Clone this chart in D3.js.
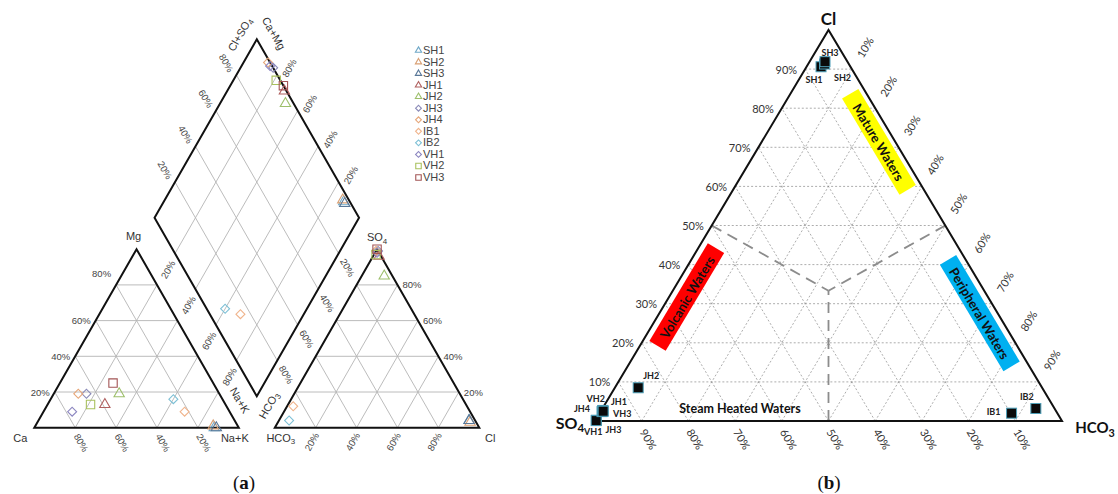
<!DOCTYPE html>
<html>
<head>
<meta charset="utf-8">
<script src="https://cdn.jsdelivr.net/npm/d3@7"></script>
<style>
  body { margin: 0; background: #fff; }
  svg { display: block; }
</style>
</head>
<body>
<svg id="chart" width="1118" height="494"></svg>
<script>
// ---------- sample data ----------
const sampleNames  = ["SH1", "SH2", "SH3", "JH1", "JH2", "JH3", "JH4", "IB1", "IB2", "VH1", "VH2", "VH3"];
const sampleShapes = ["triangle", "triangle", "triangle", "triangle", "triangle", "diamond", "diamond", "diamond", "diamond", "diamond", "square", "square"];
const sampleColors = ["#6fa8c8", "#d9a074", "#5a7898", "#b0605f", "#9dbf6b", "#8b8bb8", "#e6a77a", "#f0b48c", "#7ec0d6", "#8c86c0", "#a9c15e", "#a35555"];

// Piper diagram, meq fractions
const cationMg  = [0.00, 0.01, 0.00, 0.13, 0.19, 0.19, 0.19, 0.09, 0.16, 0.09, 0.13, 0.25];
const cationNaK = [0.88, 0.87, 0.89, 0.28, 0.32, 0.16, 0.12, 0.69, 0.60, 0.14, 0.21, 0.26];
const anionSO4  = [0.04, 0.03, 0.04, 0.96, 0.85, 0.99, 0.99, 0.12, 0.04, 0.98, 0.97, 1.00];
const anionCl   = [0.93, 0.94, 0.93, 0.03, 0.11, 0.01, 0.00, 0.03, 0.05, 0.01, 0.01, 0.00];

// Cl–SO4–HCO3 ternary, relative fractions
const gigCl   = [0.906, 0.913, 0.919, 0.026, 0.085, 0.002, 0.024, 0.020, 0.032, 0.001, 0.027, 0.025];
const gigHCO3 = [0.031, 0.035, 0.033, 0.004, 0.050, 0.002, 0.003, 0.882, 0.928, 0.002, 0.003, 0.005];

const piperTicks = [20, 40, 60, 80];
const gigTicks   = [10, 20, 30, 40, 50, 60, 70, 80, 90];

// ---------- shared helpers ----------
const svg = d3.select("#chart");

function line(g, p1, p2, stroke, width, dash) {
  g.append("line")
    .attr("x1", p1[0]).attr("y1", p1[1])
    .attr("x2", p2[0]).attr("y2", p2[1])
    .attr("stroke", stroke).attr("stroke-width", width)
    .attr("stroke-dasharray", dash || null);
}

function text(g, x, y, str, o = {}) {
  const t = g.append("text")
    .attr("transform", `translate(${x},${y}) rotate(${o.rotate || 0})`)
    .attr("text-anchor", o.anchor || "middle")
    .attr("dominant-baseline", o.baseline || "central")
    .attr("font-family", o.family || "'Liberation Sans', Arial, sans-serif")
    .attr("font-size", o.size || 10)
    .attr("font-weight", o.weight || "normal")
    .attr("fill", o.fill || "#333");
  if (o.sub) {
    t.append("tspan").text(str);
    t.append("tspan").attr("font-size", (o.size || 10) * 0.72).attr("dy", (o.size || 10) * 0.3).text(o.sub);
  } else {
    t.text(str);
  }
  return t;
}

const shapePath = {
  triangle: s => d3.symbol(d3.symbolTriangle, s)(),
  diamond:  s => d3.symbol(d3.symbolSquare, s)(),
  square:   s => d3.symbol(d3.symbolSquare, s)()
};
const shapeSize = {
  plot:   { triangle: 46, diamond: 40, square: 70 },
  legend: { triangle: 17, diamond: 17, square: 30 }
};
function marker(g, x, y, i, kind) {
  const shp = sampleShapes[i];
  g.append("path")
    .attr("d", shapePath[shp](shapeSize[kind][shp]))
    .attr("transform", `translate(${x},${y})` + (shp === "diamond" ? " rotate(45)" : ""))
    .attr("fill", "none")
    .attr("stroke", sampleColors[i])
    .attr("stroke-width", 1.1);
}

// =====================================================================
// (a) Piper diagram
// =====================================================================
const A = { x0: 34.3, base: 427.7, s: 204.5, h: 178.5, gap: 36 };
const pa = svg.append("g");

const cx = d3.scaleLinear().domain([0, 1]).range([A.x0, A.x0 + A.s]);
const ax = d3.scaleLinear().domain([0, 1]).range([A.x0 + A.s + A.gap, A.x0 + 2 * A.s + A.gap]);
const ty = d3.scaleLinear().domain([0, 1]).range([A.base, A.base - A.h]);
const Bx = A.x0 + A.s + A.gap / 2;
const By = A.base - (A.gap / 2) * (A.h / (A.s / 2));
const dX = d3.scaleLinear().domain([-1, 1]).range([Bx - A.s / 2, Bx + A.s / 2]);
const dY = d3.scaleLinear().domain([0, 2]).range([By, By - 2 * A.h]);

const cationPt  = (mg, na) => [cx(na + mg / 2), ty(mg)];
const anionPt   = (so4, cl) => [ax(cl + so4 / 2), ty(so4)];
const diamondPt = (na, c) => [dX(c - (1 - na)), dY((1 - na) + c)];

const gridA = "#b4b4b4";
// grid lines
piperTicks.forEach(p => {
  const t = p / 100;
  // cation triangle
  line(pa, cationPt(t, 0), cationPt(t, 1 - t), gridA, 0.9);
  line(pa, cationPt(0, t), cationPt(1 - t, t), gridA, 0.9);
  line(pa, cationPt(0, 1 - t), cationPt(1 - t, 0), gridA, 0.9);
  // anion triangle
  line(pa, anionPt(t, 0), anionPt(t, 1 - t), gridA, 0.9);
  line(pa, anionPt(0, t), anionPt(1 - t, t), gridA, 0.9);
  line(pa, anionPt(0, 1 - t), anionPt(1 - t, 0), gridA, 0.9);
  // diamond
  line(pa, diamondPt(t, 0), diamondPt(t, 1), gridA, 0.9);
  line(pa, diamondPt(0, t), diamondPt(1, t), gridA, 0.9);
});

// outlines
const outline = pts => pa.append("path")
  .attr("d", d3.line()(pts) + "Z")
  .attr("fill", "none").attr("stroke", "#111").attr("stroke-width", 2)
  .attr("stroke-linejoin", "miter");
outline([cationPt(0, 0), cationPt(0, 1), cationPt(1, 0)]);
outline([anionPt(0, 0), anionPt(0, 1), anionPt(1, 0)]);
outline([diamondPt(1, 0), diamondPt(0, 0), diamondPt(0, 1), diamondPt(1, 1)]);

// tick labels
const tickA = { size: 9.5, fill: "#444" };
piperTicks.forEach(p => {
  const t = p / 100, lbl = p + "%";
  // Mg on the cation left edge
  let q = cationPt(t, 0);
  text(pa, q[0] - 5, q[1] - (p === 80 ? 11 : 0), lbl, { ...tickA, anchor: "end" });
  // Ca along the cation base
  q = cationPt(0, 1 - t);
  text(pa, q[0] + 6, q[1] + 15, lbl, { ...tickA, rotate: 60 });
  // SO4 on the anion right edge
  q = anionPt(t, 1 - t);
  text(pa, q[0] + 5, q[1], lbl, { ...tickA, anchor: "start" });
  // Cl along the anion base
  q = anionPt(0, t);
  text(pa, q[0] - 4, q[1] + 14, lbl, { ...tickA, rotate: -60 });
  // diamond: Cl+SO4 (upper left)
  q = diamondPt(0, t);
  text(pa, q[0] - 10, q[1] - 12, lbl, { ...tickA, rotate: 60 });
  // diamond: Ca+Mg (upper right)
  q = diamondPt(1 - t, 1);
  text(pa, q[0] + 12, q[1] - 7, lbl, { ...tickA, rotate: -60 });
  // diamond: Na+K (lower left)
  q = diamondPt(t, 0);
  text(pa, q[0] - 7, q[1] + 16, lbl, { ...tickA, rotate: -60 });
  // diamond: HCO3 (lower right)
  q = diamondPt(1, 1 - t);
  text(pa, q[0] + 9, q[1] + 14, lbl, { ...tickA, rotate: 60 });
});

// axis names
const nameA = { size: 11, fill: "#333" };
let v = cationPt(0, 0);  text(pa, v[0] - 14, v[1] + 10, "Ca", nameA);
v = cationPt(0, 1);      text(pa, v[0] - 4, v[1] + 10, "Na+K", nameA);
v = cationPt(1, 0);      text(pa, v[0] - 3, v[1] - 13, "Mg", nameA);
v = anionPt(1, 0);       text(pa, v[0], v[1] - 12, "SO", { ...nameA, sub: "4" });
v = anionPt(0, 0);       text(pa, v[0] + 6, v[1] + 10, "HCO", { ...nameA, sub: "3" });
v = anionPt(0, 1);       text(pa, v[0] + 11, v[1] + 10, "Cl", nameA);
v = diamondPt(0, 1);
text(pa, v[0] - 17, v[1] - 5, "Cl+SO", { ...nameA, rotate: -60, sub: "4" });
text(pa, v[0] + 17, v[1] - 6, "Ca+Mg", { ...nameA, rotate: 60 });
v = diamondPt(1, 0);
text(pa, v[0] - 17, v[1] + 4, "Na+K", { ...nameA, rotate: 60 });
text(pa, v[0] + 12, v[1] + 9, "HCO", { ...nameA, rotate: -60, sub: "3" });

// samples
sampleNames.forEach((n, i) => {
  const c = cationPt(cationMg[i], cationNaK[i]);
  const a = anionPt(anionSO4[i], anionCl[i]);
  const d = diamondPt(cationNaK[i], anionSO4[i] + anionCl[i]);
  marker(pa, c[0], c[1], i, "plot");
  marker(pa, a[0], a[1], i, "plot");
  marker(pa, d[0], d[1], i, "plot");
});

// legend
const legY = d3.scalePoint().domain(sampleNames).range([50, 177]);
sampleNames.forEach((n, i) => {
  marker(pa, 418.5, legY(n) + 0.5, i, "legend");
  text(pa, 423, legY(n), n, { size: 11, fill: "#444", anchor: "start" });
});

// =====================================================================
// (b) Cl – SO4 – HCO3 ternary
// =====================================================================
const pb = svg.append("g");
const bx = d3.scaleLinear().domain([0, 1]).range([595, 1062]);
const by = d3.scaleLinear().domain([0, 1]).range([421, 30]);
const gigPt = (cl, hco3) => [bx(hco3 + cl / 2), by(cl)];
const edgeAngle = Math.atan2(by(0) - by(1), bx(0.5) - bx(0)) * 180 / Math.PI;

const gridB = "#8a8a8a";
gigTicks.forEach(p => {
  const t = p / 100;
  line(pb, gigPt(t, 0), gigPt(t, 1 - t), gridB, 0.7, "2,2");
  line(pb, gigPt(0, t), gigPt(1 - t, t), gridB, 0.7, "2,2");
  line(pb, gigPt(0, 1 - t), gigPt(1 - t, 0), gridB, 0.7, "2,2");
});

// field boundaries
const centre = gigPt(1 / 3, 1 / 3);
[gigPt(0.5, 0), gigPt(0.5, 0.5), gigPt(0, 0.5)].forEach(p =>
  line(pb, p, centre, "#8c8c8c", 1.8, "11,7"));

pb.append("path")
  .attr("d", d3.line()([gigPt(0, 0), gigPt(0, 1), gigPt(1, 0)]) + "Z")
  .attr("fill", "none").attr("stroke", "#111").attr("stroke-width", 2);

// tick labels
const fontB = "Lato, 'Open Sans', sans-serif";
const tickB = { size: 11, fill: "#333", family: fontB };
gigTicks.forEach(p => {
  const t = p / 100, lbl = p + "%";
  let q = gigPt(t, 0);
  text(pb, q[0] - 8, q[1], lbl, { ...tickB, anchor: "end" });
  q = gigPt(1 - t, t);
  text(pb, q[0] + 13, q[1] - 22, lbl, { ...tickB, rotate: -edgeAngle });
  q = gigPt(0, 1 - t);
  text(pb, q[0] + 7, q[1] + 18, lbl, { ...tickB, rotate: edgeAngle });
});

// vertex names
v = gigPt(1, 0);  text(pb, v[0], v[1] - 12, "Cl", { size: 17, weight: "bold", fill: "#111", family: fontB });
v = gigPt(0, 0);  text(pb, v[0] - 25, v[1] + 1, "SO", { size: 16, weight: "bold", fill: "#111", family: fontB, sub: "4" });
v = gigPt(0, 1);  text(pb, v[0] + 33, v[1] + 6, "HCO", { size: 15, weight: "bold", fill: "#111", family: fontB, sub: "3" });

// water-type fields
const fieldNames  = ["Mature Waters", "Volcanic Waters", "Peripheral Waters"];
const fieldColors = ["#ffff00", "#ff0000", "#00b0f0"];
const fieldCl     = [0.714, 0.317, 0.276];
const fieldHCO3   = [0.251, 0.038, 0.686];
const fieldLength = [112, 114, 124];
const fieldTilt   = [1, -1, 1];
fieldNames.forEach((n, i) => {
  const q = gigPt(fieldCl[i], fieldHCO3[i]);
  const g = pb.append("g").attr("transform", `translate(${q[0]},${q[1]}) rotate(${fieldTilt[i] * edgeAngle})`);
  g.append("rect").attr("x", -fieldLength[i] / 2).attr("y", -9.5)
    .attr("width", fieldLength[i]).attr("height", 19).attr("fill", fieldColors[i]);
  text(g, 0, 0.5, n, { size: 13, weight: "bold", fill: "#111", family: fontB });
});
v = gigPt(0.033, 0.294);
text(pb, v[0], v[1], "Steam Heated Waters", { size: 12.5, weight: "bold", fill: "#111", family: fontB });

// samples
const labelDx = [-7, 18, 5, 16, 13, 17, -20, -18, -9, -3, -7, 19];
const labelDy = [13, 13, -9, -9, -12, 9, -3, -2, -12, 11, -12, 2];
const drawOrder = [0, 1, 2, 5, 9, 6, 10, 3, 11, 4, 7, 8];
drawOrder.forEach(i => {
  const q = gigPt(gigCl[i], gigHCO3[i]);
  pb.append("rect")
    .attr("x", q[0] - 5).attr("y", q[1] - 5).attr("width", 10).attr("height", 10)
    .attr("fill", "#0a0a0a").attr("stroke", "#4d9fb8").attr("stroke-width", 1);
});
sampleNames.forEach((n, i) => {
  const q = gigPt(gigCl[i], gigHCO3[i]);
  text(pb, q[0] + labelDx[i], q[1] + labelDy[i], n, { size: 9, weight: "bold", fill: "#222", family: fontB });
});

// panel captions
[["a", 244], ["b", 829]].forEach(([c, x]) => {
  const t = svg.append("text").attr("x", x).attr("y", 489)
    .attr("text-anchor", "middle")
    .attr("font-family", "'Liberation Serif', 'DejaVu Serif', serif")
    .attr("font-size", 19).attr("fill", "#111");
  t.append("tspan").text("(");
  t.append("tspan").attr("font-weight", "bold").text(c);
  t.append("tspan").text(")");
});
</script>
</body>
</html>
